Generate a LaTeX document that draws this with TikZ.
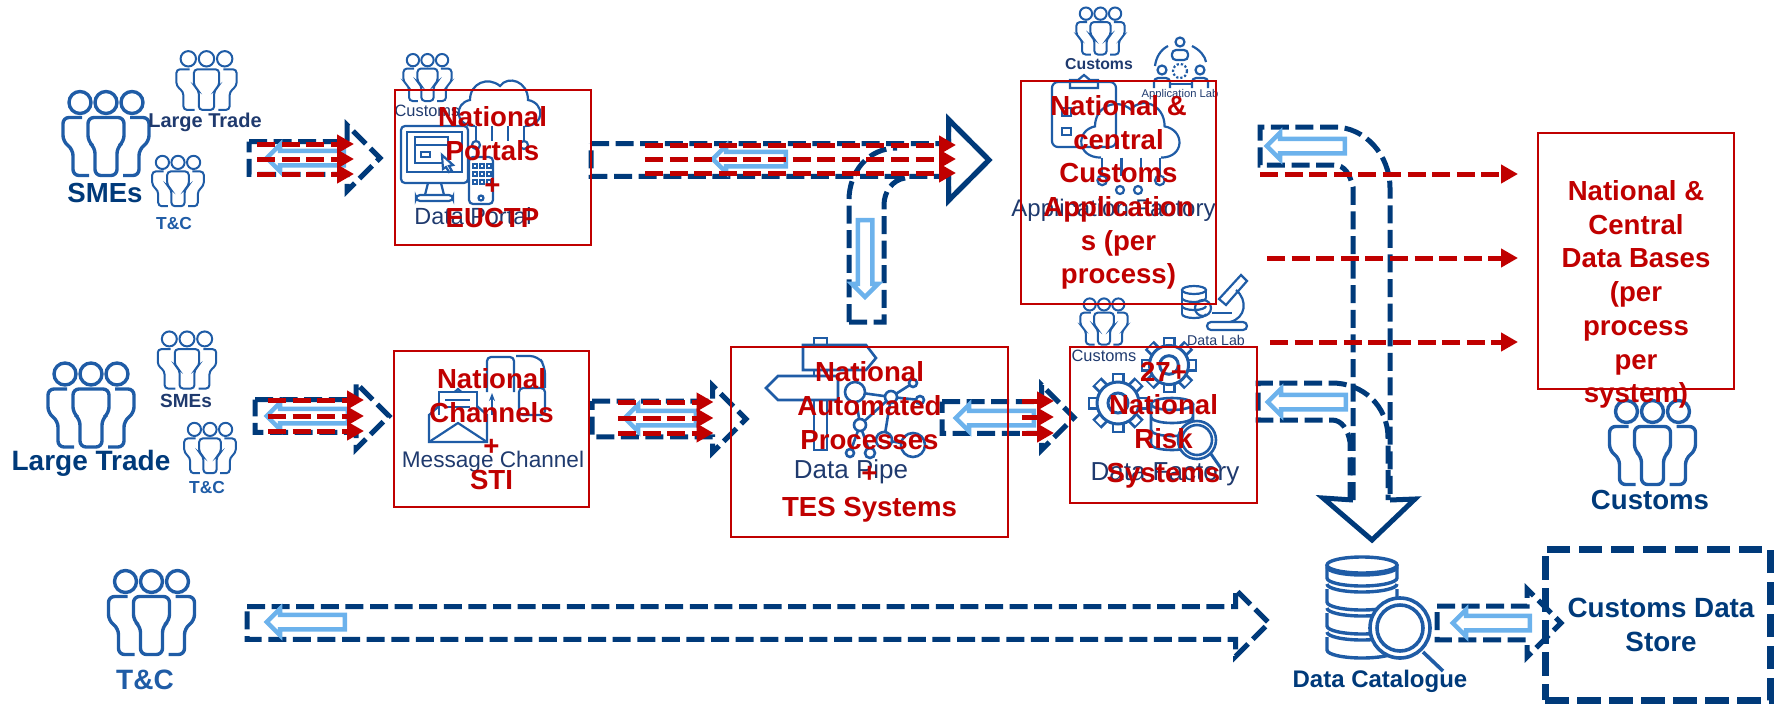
\documentclass[tikz,border=0pt]{standalone}
\usepackage{fontspec}
\setmainfont{Liberation Sans}
\usepackage{xcolor}
\usetikzlibrary{shapes.arrows, arrows.meta}

\definecolor{flownavy}{HTML}{003A7A}
\definecolor{flowblue}{HTML}{6CB2EC}
\definecolor{boxred}{HTML}{C00000}
\definecolor{iconblue}{HTML}{1F5CA6}
\definecolor{labelnavy}{HTML}{1F3A6E}

\tikzset{
  redbox/.style={rectangle, draw=boxred, line width=1pt, inner sep=0pt, outer sep=0pt, align=center, text=boxred, font=\fontsize{13.8}{16.85}\selectfont\bfseries},
  redtext/.style={align=center, inner sep=0pt, text=boxred, font=\fontsize{13.8}{16.85}\selectfont\bfseries},
  iconlabel/.style={inner sep=0pt, text=labelnavy, font=\fontsize{#1}{#1}\selectfont},
  biglabel/.style={inner sep=0pt, text=flownavy, font=\fontsize{#1}{#1}\selectfont\bfseries},
  flowline/.style={draw=flownavy, line width=2.5pt, dash pattern=on 9pt off 3.3pt},
  blockarrow/.style n args={3}{single arrow, anchor=tail, inner xsep=0pt, inner ysep=#2*0.25pt, outer sep=0pt, minimum height=#1*0.5pt, single arrow head extend=#3*0.5pt},
  backflow/.style n args={2}{single arrow, draw=flowblue, fill=white, line width=2.25pt, anchor=tail, inner sep=2.5pt, outer sep=0pt, minimum height=#1*0.5pt, single arrow head extend=3pt, shape border rotate=#2},
  redflow/.style={draw=boxred, line width=2.5pt, dash pattern=on 9pt off 3.3pt, -{Triangle[length=8.5pt,width=9pt]}},
  bigicon/.style={iconblue, line width=1.7pt, rounded corners=3pt},
  smallicon/.style={iconblue, line width=1pt, rounded corners=1.8pt},
  thinicon/.style={iconblue, line width=1.1pt},
  people/.pic={
    \foreach \hx in {-26,0,26} \draw (\hx,-31) circle (11);
    \draw (-18,-16) -- (18,-16) -- (18,8) -- (11,14) -- (11,42) -- (-11,42) -- (-11,14) -- (-18,8) -- cycle;
    \draw (-24,-16) -- (-43,-16) -- (-43,8) -- (-33,16) -- (-33,42) -- (-17,42);
    \draw (24,-16) -- (43,-16) -- (43,8) -- (33,16) -- (33,42) -- (17,42);
  },
  gearicon/.pic={
    \foreach \a in {0,45,...,315} \draw [line width=6.5pt] (\a:20) -- (\a:30);
    \foreach \a in {0,45,...,315} \draw [white, line width=3.6pt] (\a:20) -- (\a:28);
    \draw [fill=white] (0,0) circle (21);
    \draw (0,0) circle (10);
  },
  cloudicon/.pic={
    \draw (-25,23) .. controls (-46,23) and (-46,0) .. (-30,-3) .. controls (-30,-20) and (-12,-27) .. (0,-17) .. controls (8,-28) and (28,-22) .. (28,-3) .. controls (45,0) and (45,23) .. (25,23);
    \foreach \lx in {-24,-8,8,24} \draw (\lx,23) -- (\lx,38);
    \foreach \lx in {-24,24} \draw (\lx,42) circle (4);
  },
  stackicon/.pic={
    \draw (0,-39) ellipse [x radius=35, y radius=8];
    \draw (-35,-37) arc [start angle=180, end angle=0, x radius=35, y radius=8];
    \foreach \ty in {-39,-15,9,33} {
      \draw (-35,\ty) -- (-35,\ty+13) arc [start angle=180, end angle=0, x radius=35, y radius=8] -- (35,\ty);
    }
    \foreach \ty in {-20,4,28} \draw (-35,\ty) arc [start angle=180, end angle=0, x radius=35, y radius=8];
  }
}

\newcommand{\redtriple}[6]{%
  \foreach \k/\y in {a/#4, b/#5, c/#6} {
    \coordinate (#1s\k) at (#2,\y);
    \coordinate (#1e\k) at (#3,\y);
    \draw [redflow] (#1s\k) -- (#1e\k);
  }%
}
\newcommand{\flowoutline}[1]{%
  \draw [flowline] (#1.after tail) -- (#1.before head) -- (#1.before tip) -- (#1.tip) -- (#1.after tip) -- (#1.after head) -- (#1.before tail) -- cycle;%
}

\begin{document}
\begin{tikzpicture}[x=0.5pt, y=-0.5pt]
\useasboundingbox (0,0) rectangle (1774,703);

% user groups
\pic [bigicon] at (106,133.5) {people};
\pic [smallicon, scale=.7] at (206.5,80.5) {people};
\pic [smallicon, scale=.6] at (178,181) {people};
\pic [bigicon] at (91,405) {people};
\pic [smallicon, scale=.68] at (187,360) {people};
\pic [smallicon, scale=.6] at (210,448) {people};
\pic [bigicon] at (151.5,612.5) {people};
\pic [smallicon, scale=.56] at (427.5,77.5) {people};
\pic [smallicon, scale=.56] at (1100.5,31) {people};
\pic [smallicon, scale=.55] at (1104,321.5) {people};
\pic [bigicon] at (1652.5,442.5) {people};

% portal icons
\pic [thinicon] at (500,103) {cloudicon};
\draw [thinicon, rounded corners=2pt, fill=white] (401,126) rectangle (468,183);
\draw [thinicon] (407,132) rectangle (462,172);
\draw [thinicon] (415,137) rectangle (448,163);
\draw [thinicon] (415,145) -- (448,145);
\draw [thinicon] (421,152) rectangle (430,157);
\draw [thinicon, fill=white] (442,155) -- (453,165) -- (449,166) -- (452,171) -- (449,172) -- (446,167) -- (443,169) -- cycle;
\draw [thinicon] (428,183) -- (425,195) (441,183) -- (444,195);
\draw [thinicon, rounded corners=2pt] (416,195) rectangle (453,201);
\draw [thinicon, rounded corners=2pt, fill=white] (469,157) rectangle (493,204);
\foreach \px in {473,480,487} \foreach \py in {164,172,180} \draw [thinicon] (\px,\py) rectangle ++(4,4);
\draw [thinicon] (481,198) circle (2.5);

% application icons
\draw [thinicon, rounded corners=3pt] (1052,82) rectangle (1116,147);
\draw [thinicon] (1070,88) -- (1070,80) -- (1078,80) -- (1084,75) -- (1090,80) -- (1098,80) -- (1098,88) -- cycle;
\draw [thinicon] (1062,128) rectangle (1071,135);
\draw [thinicon] (1062,108) rectangle (1071,116);
\pic [thinicon, scale=1.2] at (1131,130) {cloudicon};
\draw [thinicon] (1120,190) circle (4) (1138,190) circle (4);
\draw [thinicon] (1180,42) circle (4.5);
\draw [thinicon, rounded corners=2pt] (1172,60) -- (1172,50) -- (1188,50) -- (1188,60) -- cycle;
\draw [thinicon] (1168,46) .. controls (1160,50) and (1156,58) .. (1155,66);
\draw [thinicon] (1192,46) .. controls (1200,50) and (1205,56) .. (1206,62);
\draw [thinicon] (1162,70) circle (4.5) (1200,70) circle (4.5);
\draw [thinicon, densely dotted] (1180,71) circle (7);
\draw [thinicon, rounded corners=2pt] (1154,88) -- (1154,78) -- (1170,78) -- (1170,88) (1192,88) -- (1192,78) -- (1208,78) -- (1208,88);
\draw [thinicon] (1170,84) -- (1192,84);

% data lab icons
\draw [thinicon] (1194,290) ellipse [x radius=12, y radius=4];
\draw [thinicon] (1182,290) -- (1182,314) (1206,290) -- (1206,298);
\foreach \ty in {298,306,314} \draw [thinicon] (1182,\ty) arc [start angle=180, end angle=0, x radius=12, y radius=4];
\draw [thinicon] (1203,308) circle (8);
\draw [thinicon] (1241,275) -- (1247,281) -- (1226,305) -- (1219,299) -- cycle;
\draw [thinicon] (1236,290) .. controls (1248,300) and (1246,318) .. (1230,322);
\draw [thinicon] (1212,313) -- (1232,313);
\draw [thinicon, rounded corners=2pt] (1207,322) rectangle (1247,330);

% message icons
\draw [thinicon] (429,415) -- (458,389) -- (487,415) -- (487,442) -- (429,442) -- cycle;
\draw [thinicon, fill=white] (439,415) -- (439,392) -- (477,392) -- (477,415);
\draw [thinicon] (429,442) -- (458,423) -- (487,442);
\draw [thinicon] (445,400) -- (470,400) (445,407) -- (470,407);
\draw [thinicon, rounded corners=2pt] (487,392) -- (487,357) -- (514,357) -- (514,392);
\draw [thinicon, rounded corners=4pt] (516,356) -- (538,356) -- (545,366) -- (545,388);
\draw [thinicon, rounded corners=2pt] (519,388) -- (545,388) -- (545,415) -- (519,415) -- cycle;
\draw [thinicon, -{Stealth[length=4pt]}] (492,415) -- (492,393);

% pipe icons
\draw [thinicon, line width=1.3pt] (814,345) -- (814,338) -- (827,338) -- (827,345);
\draw [thinicon, line width=1.3pt] (803,345) -- (866,345) -- (876,358) -- (866,370) -- (803,370) -- cycle;
\draw [thinicon, line width=1.3pt] (838,376) -- (778,376) -- (766,388) -- (778,400) -- (838,400) -- cycle;
\draw [thinicon, line width=1.3pt] (814,370) -- (814,376) (827,370) -- (827,376);
\draw [thinicon, line width=1.3pt] (814,400) -- (814,450) -- (827,450) -- (827,400);
\foreach \xa/\ya/\xb/\yb in {855/392/891/397, 891/397/913/383, 891/397/920/400, 860/425/891/397, 855/392/860/425, 860/425/850/453, 860/425/870/453, 891/397/884/440, 884/440/913/445}
  \draw [thinicon, line width=1.3pt] (\xa,\ya) -- (\xb,\yb);
\foreach \cx/\cy/\cr in {855/392/10, 891/397/6, 860/425/6, 913/383/4, 920/400/4, 884/440/8, 913/445/12, 870/453/5, 850/453/4}
  \draw [thinicon, line width=1.3pt, fill=white] (\cx,\cy) circle (\cr);

% factory icons
\pic [iconblue, line width=1.5pt] at (1118,403) {gearicon};
\pic [iconblue, line width=1.5pt, scale=.93] at (1169,365) {gearicon};
\draw [thinicon, line width=1.3pt, fill=white] (1172,404) ellipse [x radius=21, y radius=6];
\draw [thinicon, line width=1.3pt] (1151,404) -- (1151,444) arc [start angle=180, end angle=0, x radius=21, y radius=6] -- (1193,404);
\foreach \ty in {417,430} \draw [thinicon, line width=1.3pt] (1151,\ty) arc [start angle=180, end angle=0, x radius=21, y radius=6];
\draw [thinicon, line width=1.3pt, fill=white] (1197,440) circle (19);
\draw [thinicon, line width=1.3pt] (1197,440) circle (15);
\draw [thinicon, line width=1.5pt] (1211,454) -- (1220,467);

% catalogue icons
\pic [iconblue, line width=1.7pt] at (1362,604) {stackicon};
\draw [iconblue, line width=1.8pt, fill=white] (1400,628) circle (30);
\draw [iconblue, line width=1.8pt] (1400,628) circle (23);
\draw [iconblue, line width=1.8pt] (1423,652) -- (1443,671);

% icon labels
\node (lblsmes) [biglabel=13.8] at (105,193) {SMEs};
\node (lbllarge) [iconlabel=10] at (205,122) {\bfseries Large Trade};
\node (lbltc) [biglabel=8.7] at (174,224) {\textcolor{iconblue}{T\&C}};
\node (lbllarge2) [biglabel=14] at (91,463) {Large Trade};
\node (lblsmes2) [iconlabel=9.5] at (186,401) {\bfseries SMEs};
\node (lbltc2) [biglabel=8.7] at (207,488) {\textcolor{iconblue}{T\&C}};
\node (lbltc3) [biglabel=14] at (145,680) {\textcolor{iconblue}{T\&C}};
\node (lblcust1) [iconlabel=8.2] at (427,111) {Customs};
\node (lblportal) [iconlabel=11.7] at (473,216) {Data Portal};
\node (lblcust2) [iconlabel=7.9] at (1099,64) {\bfseries Customs};
\node (lbllab) [iconlabel=5.6] at (1180,95) {Application Lab};
\node (lblfactory) [iconlabel=12] at (1113.5,210) {Application Factory};
\node (lbldatalab) [iconlabel=7.1] at (1216,340) {Data Lab};
\node (lblcust3) [iconlabel=8.2] at (1104,356) {Customs};
\node (lblmessage) [iconlabel=11.3] at (493,462) {Message Channel};
\node (lblpipe) [iconlabel=13] at (851,472) {Data Pipe};
\node (lbldatafac) [iconlabel=13] at (1165,474) {Data Factory};
\node (lblcust4) [biglabel=13.8] at (1650,500) {Customs};
\node (lblcat) [biglabel=12] at (1380,681) {Data Catalogue};

% flows
\node (flowone) [blockarrow={131}{32}{16.5}] at (249,158) {};
\node (flowtwo) [blockarrow={398}{32}{24}] at (591,160) {};
\node (flowthree) [blockarrow={134}{32}{16.5}] at (255,416) {};
\node (flowfour) [blockarrow={154}{35}{15.5}] at (592,419) {};
\node (flowfive) [blockarrow={132}{31}{16.5}] at (942,417.5) {};
\node (flowsix) [blockarrow={1022}{32}{17}] at (247,623) {};
\node (flowseven) [blockarrow={124}{33}{17}] at (1437,623) {};
\foreach \n in {flowone,flowtwo,flowthree,flowfour,flowfive,flowsix,flowseven} {\flowoutline{\n}}
\draw [draw=flownavy, line width=2.5pt] (flowtwo.before head) -- (flowtwo.before tip) -- (flowtwo.tip) -- (flowtwo.after tip) -- (flowtwo.after head);

% curved flows
\draw [flowline] (849,322) -- (849,200) .. controls (849,172) and (868,148) .. (897,148);
\draw [flowline] (849,322) -- (884,322) -- (884,205) .. controls (884,192) and (892,180) .. (905,178);
\draw [flowline] (1353,500) -- (1353,187) .. controls (1350,175) and (1345,165) .. (1334,165) -- (1260,165) -- (1260,127) -- (1334,127) .. controls (1365,127) and (1390,155) .. (1390,188) -- (1390,500);
\draw [flowline] (1350,500) -- (1350,442) .. controls (1348,430) and (1342,420) .. (1332,420) -- (1258,420) -- (1258,383) -- (1332,383) .. controls (1362,383) and (1388,405) .. (1388,438) -- (1388,500);
\coordinate (sinkl) at (1323,498);
\coordinate (sinktip) at (1372,540);
\coordinate (sinkr) at (1415,499);
\draw [draw=flownavy, line width=2.5pt, line join=miter] (1353,500) -- (sinkl) -- (sinktip) -- (sinkr) -- (1390,500);

% store
\node (store) [rectangle, flowline, line width=3.5pt, dash pattern=on 11.75pt off 4.25pt, inner sep=0pt, outer sep=0pt, minimum width=112.5pt, minimum height=75.5pt] at (1657.5,624.5) {};
\node (storetext) [inner sep=0pt, align=center, text=flownavy, font=\fontsize{13.9}{16.9}\selectfont\bfseries] at (1661,625) {Customs Data\\Store};

% return flows
\node (backone) [backflow={77}{180}] at (343.75,158) {};
\node (backtwo) [backflow={73}{180}] at (785.75,159) {};
\node (backthree) [backflow={81}{180}] at (347.75,416) {};
\node (backfour) [backflow={71}{180}] at (695.75,418) {};
\node (backfive) [backflow={78}{180}] at (1033.75,418) {};
\node (backsix) [backflow={78}{180}] at (344.75,622) {};
\node (backseven) [backflow={78}{180}] at (1344.75,146) {};
\node (backeight) [backflow={78}{180}] at (1345.75,402) {};
\node (backnine) [backflow={77}{180}] at (1529.75,623) {};
\node (backten) [backflow={77}{270}] at (865,220) {};

% red flows
\redtriple{rone}{257}{354}{144}{159}{174}
\redtriple{rtwo}{645}{956}{145}{159}{173}
\redtriple{rthree}{268}{364}{400}{416}{431}
\redtriple{rfour}{618}{713.5}{402}{418}{433}
\redtriple{rfive}{1022}{1054}{401}{417}{433}

\coordinate (dbsa) at (1260,174);
\coordinate (dbea) at (1518,174);
\coordinate (dbsb) at (1267,258);
\coordinate (dbeb) at (1518,258);
\coordinate (dbsc) at (1270,342);
\coordinate (dbec) at (1518,342);
\draw [redflow] (dbsa) -- (dbea);
\draw [redflow] (dbsb) -- (dbeb);
\draw [redflow] (dbsc) -- (dbec);

% red boxes
\node (portals) [redbox, minimum width=98pt, minimum height=77.5pt] at (492.5,167.5) {National\\Portals\\+\\EUCTP};
\node (apps) [redbox, minimum width=97.5pt, minimum height=111.5pt] at (1118.5,192.5) {National \&\\central\\Customs\\Application\\s (per\\process)};
\node (channels) [redbox, minimum width=97.5pt, minimum height=78pt] at (491.5,429) {National\\Channels\\+\\STI};
\node (pipes) [redbox, minimum width=138.5pt, minimum height=95pt] at (869.5,442) {National\\Automated\\Processes\\+\\TES Systems};
\node (risks) [redbox, minimum width=93.5pt, minimum height=78pt] at (1163.5,425) {27+\\National\\Risk\\Systems};
\node (bases) [redbox, minimum width=98pt, minimum height=128pt] at (1636,261) {};
\node (basestext) [redtext] at (1636,294.5) {National \&\\Central\\Data Bases\\(per\\process\\per\\system)};
\end{tikzpicture}
\end{document}
